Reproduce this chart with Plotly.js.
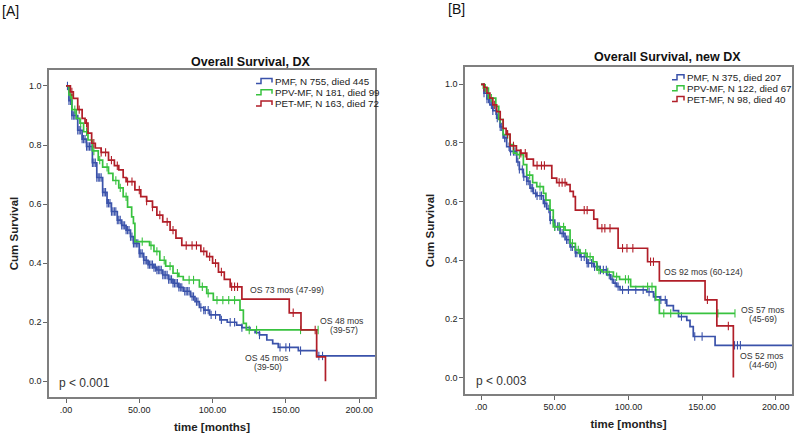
<!DOCTYPE html>
<html><head><meta charset="utf-8">
<script src="https://cdn.plot.ly/plotly-3.0.1.min.js"></script>
<style>html,body{margin:0;padding:0;background:#fff}#chart{width:800px;height:440px}</style>
</head><body><div id="chart"></div>
<script>
// ---------- Panel A: Overall Survival, DX ----------
const aPmfTime = [0,2,4,8,11,14,18,21,25,28,31,35,38,41,44,46,50,53,56,60,62,66,70,73,77,80,85,88,91,94,98,105,110,116.4,120,125.5,129,132,137,141,144.8,158.5,171,211];
const aPmfSurv = [1,0.95,0.9,0.85,0.82,0.795,0.74,0.69,0.64,0.603,0.575,0.546,0.528,0.512,0.49,0.467,0.433,0.41,0.395,0.385,0.377,0.36,0.345,0.332,0.318,0.305,0.287,0.27,0.25,0.241,0.225,0.208,0.2,0.19,0.182,0.174,0.165,0.157,0.14,0.128,0.115,0.104,0.086,0.086];
const aPmfCens = [1,2,3,4,5,6,7,8,9,10,11,12,13,14,15,16,17,18,19,20,21,22,23,24,25,26,27,28,29,30,31,32,33,34,35,36,37,38,39,40,41,42,43,44,45,46,47,48,49,50,51,52,53,54,55,56,57,58,59,60,61,62,63,64,65,66,67,68,69,70,71,72,73,74,75,76,77,78,79,81,82,83,84,86,87,89,90,92,94,95,97,99,102,106,112,115,120,132,146,150,152.5,160,172.5,175];

const aPpvTime = [0,2,4,7,9.5,12,15,18,22,25,29,32,36,39,42,44.8,46,47,57,60,64,68,73,77,80,91,96,100.5,118.7,121,123,172];
const aPpvSurv = [1,0.97,0.92,0.89,0.874,0.845,0.817,0.78,0.749,0.725,0.704,0.68,0.655,0.625,0.59,0.557,0.535,0.473,0.46,0.44,0.41,0.39,0.366,0.355,0.343,0.32,0.298,0.275,0.241,0.196,0.174,0.174];
const aPpvCens = [3,6,10,14,19,23,28,34,37,41,52,58,62,67,71,76,84,87,93,97,103,107,111,115,125,130,160,172];

const aPetTime = [0,3,5,8,11,13,15,17.5,20,24,29,33,36,39,41,47,51,55,59,62,66,71,75,79,92,96,100,104,108,112,120,152.3,160.3,171,177];
const aPetSurv = [1,0.98,0.958,0.92,0.89,0.874,0.84,0.806,0.79,0.775,0.749,0.73,0.716,0.69,0.676,0.648,0.625,0.61,0.59,0.563,0.54,0.512,0.485,0.46,0.44,0.422,0.4,0.37,0.345,0.32,0.278,0.232,0.174,0.083,0];
const aPetCens = [4,9,14,19,24,27,31,35,42,45,50,55,59,64,69,73,82,86,89,94,98,102,106,113,115,117,155,170];

// ---------- Panel B: Overall Survival, new DX ----------
const bPmfTime = [0,2,4,6,8,10.6,12.9,15,17.4,19.7,24.2,26,28.7,31,33.2,35.5,37.8,42.3,44.6,46.8,50,53.6,57,60.4,64,67.2,71.7,76.2,80.7,85.3,88,89.8,92,94.3,112.4,117,121.4,126,130.5,134,139.6,141.8,144,158.8,211];
const bPmfSurv = [1,0.97,0.95,0.93,0.91,0.885,0.855,0.817,0.787,0.771,0.735,0.71,0.685,0.67,0.646,0.628,0.62,0.594,0.575,0.537,0.515,0.492,0.47,0.446,0.425,0.412,0.39,0.378,0.367,0.35,0.335,0.322,0.31,0.299,0.292,0.275,0.265,0.245,0.228,0.208,0.195,0.174,0.14,0.11,0.11];
const bPmfCens = [2,4,5,7,8,10,11,13,14,16,17,19,20,22,23,25,26,28,29,31,32,34,35,37,38,40,41,43,44,46,47,49,50,52,53,55,56,58,59,61,62,64,65,67,68,70,72,73,75,77,79,81,83,85,87,89,91,93,96,100,105,110,114,118,122,125,136,145,150,172,174,176];

const bPpvTime = [0,1.6,5,10,12,15,19.7,22,24.2,28.7,31,35,37.8,42.3,44,46.8,49,57,60.4,64,67.2,72,76,78.5,82,89.8,94,101.5,118.5,121,172.3];
const bPpvSurv = [1,0.987,0.953,0.925,0.88,0.828,0.794,0.765,0.76,0.726,0.69,0.665,0.651,0.628,0.605,0.571,0.514,0.503,0.458,0.435,0.424,0.412,0.395,0.367,0.36,0.344,0.335,0.31,0.265,0.219,0.219];
const bPpvCens = [3,7,13,18,26,33,40,50,53,56,62,66,71,74,80,86,92,98,100,113,116,124,128.7,160.7,172.3];

const bPetTime = [0,2,4,6,8,10.6,13,15,17,19.7,24,27,31,35.5,48,51.3,58,60.4,62.6,64,76.5,79,93,113,121,152,160,171.2];
const bPetSurv = [1,0.99,0.97,0.953,0.93,0.907,0.88,0.85,0.83,0.79,0.775,0.765,0.745,0.723,0.68,0.665,0.658,0.635,0.617,0.571,0.54,0.509,0.441,0.395,0.33,0.265,0.176,0];
const bPetCens = [2,9,18,22,27,30,38,41,43,53,55,57,70,72,82,84,87.5,96,99,103,115,117,153.6,167.8];

const seriesNames = ['PMF', 'PPV-MF', 'PET-MF'];
const aLegend = ['PMF, N 755, died 445', 'PPV-MF, N 181, died 99', 'PET-MF, N 163, died 72'];
const bLegend = ['PMF, N 375, died 207', 'PPV-MF, N 122, died 67', 'PET-MF, N 98, died 40'];
const xTickVals = [0, 50, 100, 150, 200];
const xTickText = ['.00', '50.00', '100.00', '150.00', '200.00'];
const yTickVals = [0, 0.2, 0.4, 0.6, 0.8, 1.0];

const colors = ['#3a52aa', '#38c23f', '#b11e28'];
const W = 800, H = 440;
const px = v => v / W, py = v => (H - v) / H;

function survAt(times, surv, t) {
  let s = surv[0];
  for (let i = 0; i < times.length; i++) if (times[i] <= t) s = surv[i];
  return s;
}

const traces = [];
function addSeries(times, surv, cens, color, name, xa, ya) {
  traces.push({x: times, y: surv, mode: 'lines', line: {shape: 'hv', color: color, width: 1.7},
    name: name, showlegend: false, xaxis: xa, yaxis: ya, hoverinfo: 'skip'});
  traces.push({x: cens, y: cens.map(t => survAt(times, surv, t)), mode: 'markers',
    marker: {symbol: 'line-ns-open', size: 6, color: color, line: {color: color, width: 1.1}},
    name: name + ' censored', showlegend: false, xaxis: xa, yaxis: ya, hoverinfo: 'skip'});
}
addSeries(aPmfTime, aPmfSurv, aPmfCens, colors[0], seriesNames[0], 'x', 'y');
addSeries(aPpvTime, aPpvSurv, aPpvCens, colors[1], seriesNames[1], 'x', 'y');
addSeries(aPetTime, aPetSurv, aPetCens, colors[2], seriesNames[2], 'x', 'y');
addSeries(bPmfTime, bPmfSurv, bPmfCens, colors[0], seriesNames[0], 'x2', 'y2');
addSeries(bPpvTime, bPpvSurv, bPpvCens, colors[1], seriesNames[1], 'x2', 'y2');
addSeries(bPetTime, bPetSurv, bPetCens, colors[2], seriesNames[2], 'x2', 'y2');

const FONT = 'Liberation Sans, Arial, sans-serif';
function xAxis(domain, range) {
  return {domain: domain, range: range, tickvals: xTickVals, ticktext: xTickText,
    ticks: 'outside', ticklen: 4, tickcolor: '#666', showline: true, mirror: true,
    linecolor: '#7f7f7f', linewidth: 1.6, showgrid: false, zeroline: false,
    tickfont: {size: 9, color: '#222'},
    title: {text: '<b>time [months]</b>', font: {size: 11.5, color: '#222'}, standoff: 8}};
}
function yAxis(domain, range) {
  return {domain: domain, range: range, tickvals: yTickVals, tickformat: '.1f',
    ticks: 'outside', ticklen: 4, tickcolor: '#666', showline: true, mirror: true,
    linecolor: '#7f7f7f', linewidth: 1.6, showgrid: false, zeroline: false,
    tickfont: {size: 9, color: '#222'},
    title: {text: '<b>Cum Survival</b>', font: {size: 11.5, color: '#222'}, standoff: 8}};
}

const annotations = [];
function paperText(text, x, y, size, xanchor, bold) {
  annotations.push({text: bold ? '<b>' + text + '</b>' : text, x: px(x), y: py(y), xref: 'paper', yref: 'paper',
    xanchor: xanchor, yanchor: 'middle', showarrow: false, font: {size: size, color: '#111', family: FONT}});
}
function dataText(text, x, y, xa, ya, size, xanchor) {
  annotations.push({text: text, x: x, y: y, xref: xa, yref: ya, xanchor: xanchor, yanchor: 'middle',
    showarrow: false, font: {size: size, color: '#333', family: FONT}});
}
paperText('[A]', 0, 11, 14, 'left', false);
paperText('[B]', 446, 9, 14, 'left', false);
paperText('Overall Survival, DX', 250, 62, 12.5, 'center', true);
paperText('Overall Survival, new DX', 667, 57, 12.5, 'center', true);

dataText('OS 73 mos (47-99)', 150.5, 0.309, 'x', 'y', 8.7, 'center');
dataText('OS 48 mos', 188.6, 0.204, 'x', 'y', 8.7, 'center');
dataText('(39-57)', 189.6, 0.174, 'x', 'y', 8.7, 'center');
dataText('OS 45 mos', 137.4, 0.079, 'x', 'y', 8.7, 'center');
dataText('(39-50)', 138, 0.048, 'x', 'y', 8.7, 'center');
dataText('p &lt; 0.001', -6, -0.007, 'x', 'y', 12, 'left');

dataText('OS 92 mos (60-124)', 151.2, 0.361, 'x2', 'y2', 8.7, 'center');
dataText('OS 57 mos', 191, 0.231, 'x2', 'y2', 8.7, 'center');
dataText('(45-69)', 191, 0.2, 'x2', 'y2', 8.7, 'center');
dataText('OS 52 mos', 190.6, 0.074, 'x2', 'y2', 8.7, 'center');
dataText('(44-60)', 191, 0.044, 'x2', 'y2', 8.7, 'center');
dataText('p &lt; 0.003', -4.8, -0.01, 'x2', 'y2', 12, 'left');

// custom legends (step swatch + label)
const shapes = [];
function legendItems(labels, x0, yStart, dy, swW) {
  labels.forEach((lab, i) => {
    const yc = yStart + i * dy;
    const d = 'M' + px(x0) + ',' + py(yc + 2.5) + ' L' + px(x0 + 5) + ',' + py(yc + 2.5) +
      ' L' + px(x0 + 5) + ',' + py(yc - 2.5) + ' L' + px(x0 + swW) + ',' + py(yc - 2.5) +
      ' L' + px(x0 + swW) + ',' + py(yc + 1.5);
    shapes.push({type: 'path', path: d, xref: 'paper', yref: 'paper', line: {color: colors[i], width: 1.5}});
    annotations.push({text: lab, x: px(x0 + swW + 1), y: py(yc), xref: 'paper', yref: 'paper',
      xanchor: 'left', yanchor: 'middle', showarrow: false, font: {size: 9.8, color: '#222', family: FONT}});
  });
}
legendItems(aLegend, 256, 81, 11.3, 16);
legendItems(bLegend, 672, 77.3, 10.9, 12);

const layout = {
  width: W, height: H, margin: {l: 0, r: 0, t: 0, b: 0},
  paper_bgcolor: '#fff', plot_bgcolor: '#fff', showlegend: false,
  font: {family: FONT, color: '#222'},
  xaxis: xAxis([px(49), px(375)], [-11.6, 210.8]),
  yaxis: yAxis([py(397), py(70)], [-0.053, 1.054]),
  xaxis2: xAxis([px(465), px(792)], [-10.9, 211]),
  yaxis2: yAxis([py(394), py(67)], [-0.056, 1.059]),
  annotations: annotations, shapes: shapes
};
layout.xaxis2.anchor = 'y2';
layout.yaxis2.anchor = 'x2';

Plotly.newPlot('chart', traces, layout, {staticPlot: true, displayModeBar: false});
</script></body></html>
